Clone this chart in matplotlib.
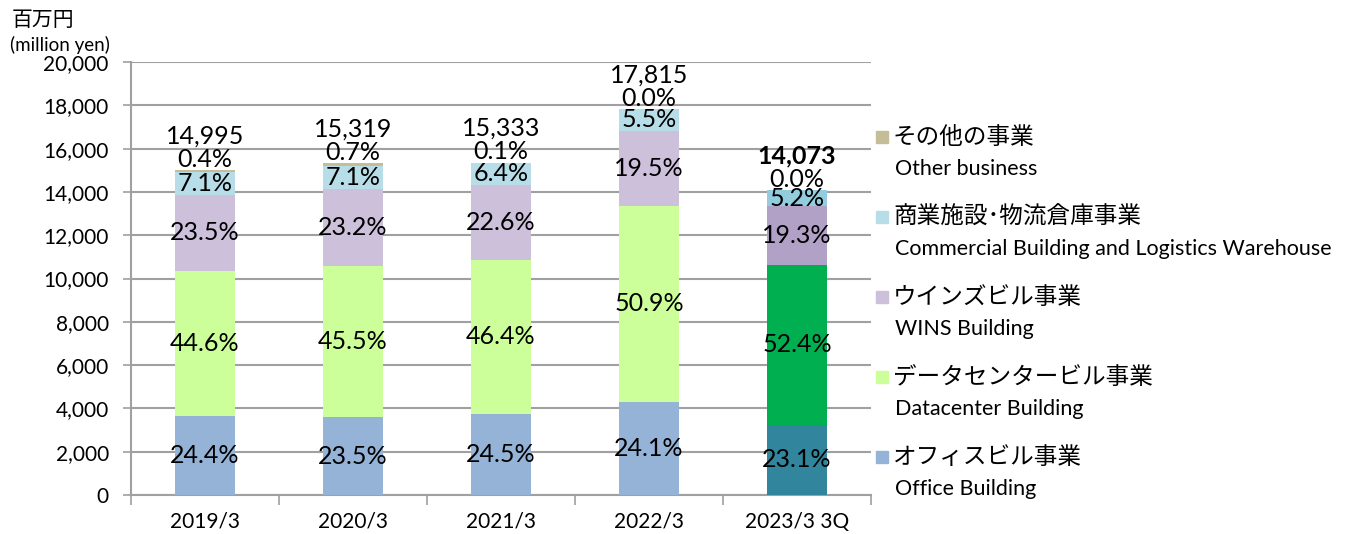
import matplotlib.pyplot as plt
from matplotlib.patches import Rectangle

plt.rcParams['font.family'] = ['Lato', 'Noto Sans CJK JP', 'DejaVu Sans']

# Data
years = ['2019/3', '2020/3', '2021/3', '2022/3', '2023/3 3Q']
totals = [14995, 15319, 15333, 17815, 14073]
# share (%) per segment, bottom to top
office_pct = [24.4, 23.5, 24.5, 24.1, 23.1]
dc_pct = [44.6, 45.5, 46.4, 50.9, 52.4]
wins_pct = [23.5, 23.2, 22.6, 19.5, 19.3]
commercial_pct = [7.1, 7.1, 6.4, 5.5, 5.2]
other_pct = [0.4, 0.7, 0.1, 0.0, 0.0]

segments_ja = ['オフィスビル事業', 'データセンタービル事業', 'ウインズビル事業',
               '商業施設･物流倉庫事業', 'その他の事業']
segments_en = ['Office Building', 'Datacenter Building', 'WINS Building',
               'Commercial Building and Logistics Warehouse', 'Other business']

colors = ['#95B3D7', '#CCFF99', '#CCC0DA', '#B7DEE8', '#C4BD97']
last_colors = ['#31859C', '#00B050', '#B2A1C7', '#93CDDD', '#C4BD97']

pcts = [office_pct, dc_pct, wins_pct, commercial_pct, other_pct]

fig = plt.figure(figsize=(13.45, 5.34), dpi=100)
ax = fig.add_axes([131 / 1345, 39 / 534, 740 / 1345, 433 / 534])

x = list(range(len(years)))
bottoms = [0.0] * len(years)
for i, pct in enumerate(pcts):
    vals = [t * p / 100 for t, p in zip(totals, pct)]
    cols = [colors[i]] * (len(years) - 1) + [last_colors[i]]
    ax.bar(x, vals, width=0.4, bottom=bottoms, color=cols, zorder=3)
    for j in range(len(years)):
        label = '{:.1f}%'.format(pct[j])
        if i == 4:
            # tiny top segment: label sits just above the bar
            ax.annotate(label, (x[j], bottoms[j] + vals[j]), xytext=(0, 8),
                        textcoords='offset points', ha='center', va='center',
                        fontsize=18, zorder=5)
        else:
            ax.text(x[j], bottoms[j] + vals[j] / 2, label, ha='center',
                    va='center', fontsize=18, zorder=5)
    bottoms = [b + v for b, v in zip(bottoms, vals)]

for j in range(len(years)):
    ax.annotate('{:,}'.format(totals[j]), (x[j], totals[j]), xytext=(0, 25),
                textcoords='offset points', ha='center', va='center',
                fontsize=18, fontweight='bold' if j == len(years) - 1 else 'normal')

ax.set_xlim(-0.5, len(years) - 0.5)
ax.set_ylim(0, 20000)
ax.set_yticks(range(0, 20001, 2000))
ax.set_yticklabels(['{:,}'.format(v) for v in range(0, 20001, 2000)], fontsize=15)
ax.set_xticks(x)
ax.set_xticklabels(years, fontsize=15)
ax.set_xticks([v - 0.5 for v in range(len(years) + 1)], minor=True)
ax.tick_params(axis='x', which='major', length=0, pad=12)
ax.tick_params(axis='x', which='minor', length=7, color='#A0A0A0', width=1.2)
ax.tick_params(axis='y', length=6, color='#A0A0A0', width=1.2, pad=10)
ax.grid(axis='y', color='#A0A0A0', linewidth=1.5, zorder=0)
for side in ['top', 'right']:
    ax.spines[side].set_visible(False)
for side in ['left', 'bottom']:
    ax.spines[side].set_color('#A0A0A0')
    ax.spines[side].set_linewidth(1.5)

fig.text(12 / 1345, 1 - 20 / 534, '百万円', fontsize=15, va='center')
fig.text(10 / 1345, 1 - 45 / 534, '(million yen)', fontsize=13.5, va='center')

# Legend, drawn top to bottom (Other first)
W, H = 1345, 534
for k in range(5):
    i = 4 - k
    yj = 137 + 80 * k
    ye = 169 + 80 * k
    fig.patches.append(Rectangle((876 / W, 1 - (yj + 6) / H), 12 / W, 12 / H,
                                 transform=fig.transFigure, color=colors[i]))
    fig.text(893 / W, 1 - yj / H, segments_ja[i], fontsize=17, va='center')
    fig.text(895 / W, 1 - ye / H, segments_en[i], fontsize=15.5, va='center')

plt.savefig('out.png')
plt.close()
